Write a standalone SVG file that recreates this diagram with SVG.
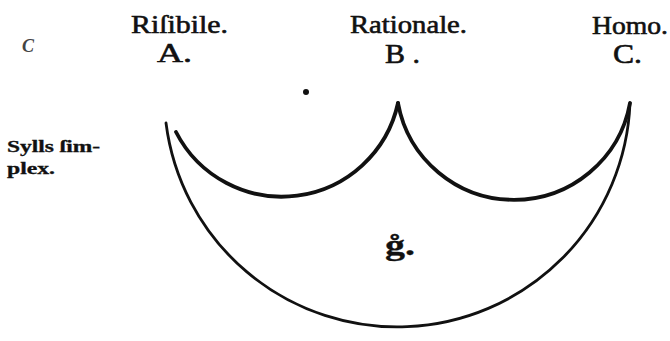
<svg xmlns="http://www.w3.org/2000/svg" width="670" height="341" viewBox="0 0 670 341">
<style>
  .lbl { font-family: "Liberation Serif", "DejaVu Serif", serif; font-weight: normal; fill: #111; stroke: #111; stroke-width: 0.6; }
  .hv { font-weight: bold; stroke-width: 0.3; }
  .arc { fill: none; stroke: #111; stroke-linecap: round; }
  .small { stroke-width: 3.8; }
  .big { stroke-width: 2.8; }
</style>
<rect width="670" height="341" fill="#fff"/>
<g id="arcs">
  <path id="arc-big" class="arc big" d="M166,123 A233,233 0 0 0 630,103"/>
  <path id="arc-AB" class="arc small" d="M176,132 A118.9,118.9 0 0 0 398,103"/>
  <path id="arc-BC" class="arc small" d="M398,103 A117.9,117.9 0 0 0 630,103"/>
</g>
<g id="node-A">
  <text class="lbl" x="131" y="33" font-size="26" textLength="97" lengthAdjust="spacingAndGlyphs">Riſibile.</text>
  <text class="lbl" x="157" y="62" font-size="28" textLength="35" lengthAdjust="spacingAndGlyphs">A.</text>
</g>
<g id="node-B">
  <text class="lbl" x="350" y="33" font-size="26" textLength="117" lengthAdjust="spacingAndGlyphs">Rationale.</text>
  <text class="lbl" x="385" y="63" font-size="28" textLength="35" lengthAdjust="spacingAndGlyphs">B .</text>
</g>
<g id="node-C">
  <text class="lbl" x="592" y="34" font-size="26" textLength="76" lengthAdjust="spacingAndGlyphs">Homo.</text>
  <text class="lbl" x="613" y="63" font-size="28" textLength="29" lengthAdjust="spacingAndGlyphs">C.</text>
</g>
<g id="node-syll">
  <text class="lbl hv" x="7" y="152" font-size="16" textLength="93" lengthAdjust="spacingAndGlyphs">Sylls ſim-</text>
  <text class="lbl hv" x="7" y="174" font-size="16" textLength="48" lengthAdjust="spacingAndGlyphs">plex.</text>
</g>
<g id="node-g">
  <text class="lbl hv" x="385" y="255" font-size="30" textLength="30" lengthAdjust="spacingAndGlyphs">g̊.</text>
</g>
<g id="marks">
  <circle cx="306" cy="92" r="3" fill="#111"/>
  <text x="22" y="52" font-family="Liberation Serif, serif" font-style="italic" font-weight="bold" font-size="18" fill="#444">C</text>
</g>
</svg>
